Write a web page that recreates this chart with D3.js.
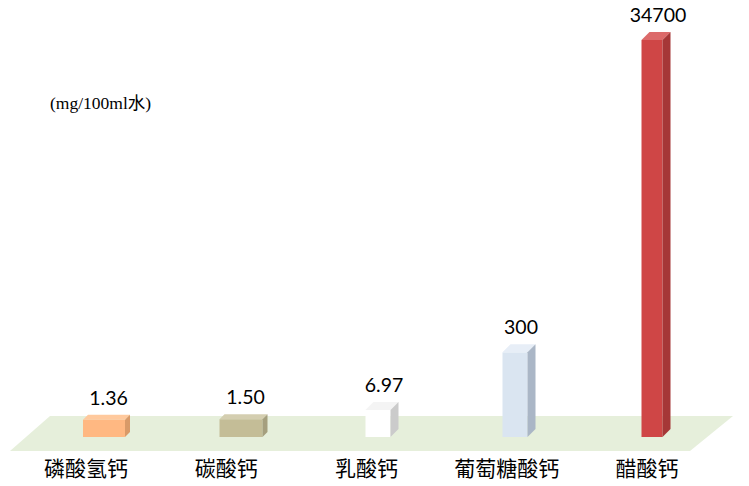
<!DOCTYPE html>
<html>
<head>
<meta charset="utf-8">
<script src="https://cdn.jsdelivr.net/npm/d3@7"></script>
<style>
  body { margin: 0; background: #fff; }
  svg { display: block; }
</style>
</head>
<body>
<svg id="chart" width="749" height="486"></svg>
<script>
// data
var categories = ["磷酸氢钙", "碳酸钙", "乳酸钙", "葡萄糖酸钙", "醋酸钙"];
var values = [1.36, 1.50, 6.97, 300, 34700];
var valueLabels = ["1.36", "1.50", "6.97", "300", "34700"];
var unitLabel = "(mg/100ml水)";

// style per bar
var frontColors = ["#ffb882", "#c4bd97", "#ffffff", "#dae5f1", "#cf4646"];
var topColors   = ["#ffc99d", "#d4ceb0", "#f4f4f4", "#e7eef7", "#dc6a6a"];
var sideColors  = ["#d99a68", "#a59f7e", "#cbcbcb", "#aab6c6", "#a53737"];
var barWidths = [42, 43, 25, 25, 21];
var barDepth = [5, 5, 8, 8, 8];

var svg = d3.select("#chart");
var baseY = 437;

// floor
var floorTop = 416, floorBottom = 451;
svg.append("polygon")
    .attr("points", [[50, floorTop], [733, floorTop], [690, floorBottom], [10, floorBottom]].join(" "))
    .attr("fill", "#e6efdb");

var xLabel = d3.scalePoint().domain(categories).range([86, 647]);
var xBar = d3.scalePoint().domain(categories).range([104, 652]);
// cube-root axis, starting a little above the floor line
var y = d3.scalePow().exponent(1 / 3)
    .domain([0, 34700])
    .range([baseY - 4, 40]);

var bars = svg.selectAll("g.bar")
    .data(values)
    .enter()
    .append("g")
    .attr("class", "bar");

// front
bars.append("rect")
    .attr("x", function(d, i){ return xBar(categories[i]) - barWidths[i] / 2; })
    .attr("y", function(d){ return y(d); })
    .attr("width", function(d, i){ return barWidths[i]; })
    .attr("height", function(d){ return baseY - y(d); })
    .attr("fill", function(d, i){ return frontColors[i]; });

// top face
bars.append("polygon")
    .attr("points", function(d, i){
        var x0 = xBar(categories[i]) - barWidths[i] / 2, w = barWidths[i], k = barDepth[i], t = y(d);
        return [[x0, t], [x0 + k, t - k], [x0 + w + k, t - k], [x0 + w, t]].join(" ");
    })
    .attr("fill", function(d, i){ return topColors[i]; });

// side face
bars.append("polygon")
    .attr("points", function(d, i){
        var x0 = xBar(categories[i]) - barWidths[i] / 2, w = barWidths[i], k = barDepth[i], t = y(d);
        return [[x0 + w, t], [x0 + w + k, t - k], [x0 + w + k, baseY - k], [x0 + w, baseY]].join(" ");
    })
    .attr("fill", function(d, i){ return sideColors[i]; });

// value labels
bars.append("text")
    .attr("x", function(d, i){ return xBar(categories[i]) + barDepth[i] / 2 + 2; })
    .attr("y", function(d, i){ return y(d) - barDepth[i] - 10; })
    .attr("text-anchor", "middle")
    .attr("font-family", "Lato, 'Open Sans', sans-serif")
    .attr("font-size", 19.5)
    .attr("fill", "#000")
    .text(function(d, i){ return valueLabels[i]; });

// category labels
svg.selectAll("text.cat")
    .data(categories)
    .enter()
    .append("text")
    .attr("class", "cat")
    .attr("x", function(d){ return xLabel(d); })
    .attr("y", 476)
    .attr("text-anchor", "middle")
    .attr("font-family", "'Noto Sans CJK SC', sans-serif")
    .attr("font-size", 21)
    .attr("fill", "#000")
    .text(function(d){ return d; });

// unit
svg.append("text")
    .attr("x", 50)
    .attr("y", 109)
    .attr("font-family", "'Liberation Serif', 'Noto Sans CJK SC', serif")
    .attr("font-size", 17.5)
    .attr("fill", "#000")
    .text(unitLabel);
</script>
</body>
</html>
